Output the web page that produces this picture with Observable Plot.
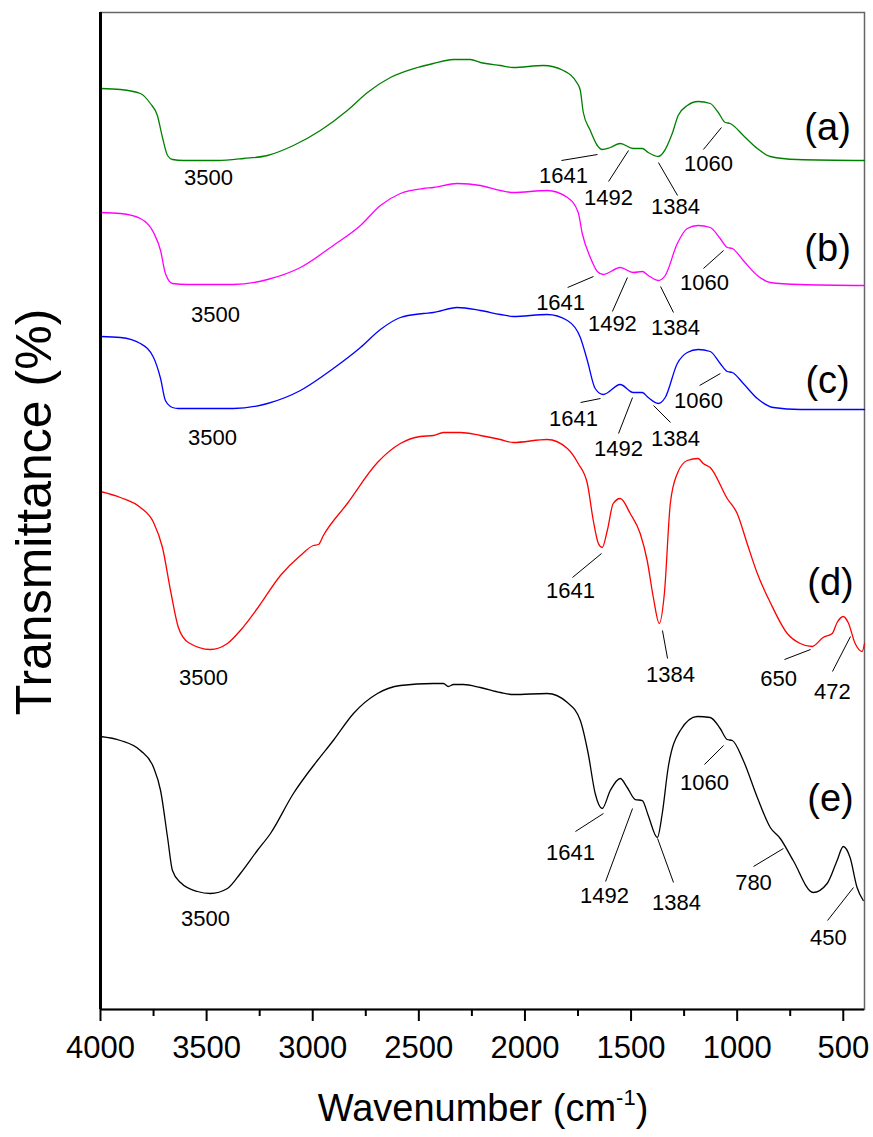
<!DOCTYPE html>
<html><head><meta charset="utf-8">
<script src="https://cdn.jsdelivr.net/npm/d3@7"></script>
<script src="https://cdn.jsdelivr.net/npm/@observablehq/plot@0.6"></script>
<style>body{margin:0;background:#fff} svg{display:block}</style>
</head><body><div id="chart"></div>
<script>
// Wavenumber (cm^-1), transmittance (arbitrary, offset) pairs
const curveA = [[4000,921],[3906,920],[3812,916],[3765,906],[3732,894],[3708,872],[3684,854],[3661,850],[3609,849],[3449,849],[3326,851],[3213,854],[3091,864],[2964,879],[2837,899],[2742,917],[2634,932],[2507,942],[2432,946],[2337,950],[2257,950],[2210,947],[2116,944],[2055,942],[1913,944],[1819,939],[1753,926],[1739,919],[1725,897],[1692,879],[1659,864],[1636,860],[1598,862],[1551,866],[1490,861],[1447,861],[1419,857],[1372,853],[1348,857],[1306,876],[1278,894],[1235,904],[1184,908],[1127,906],[1089,897],[1056,887],[1033,886],[971,874],[905,861],[844,853],[717,850],[400,849]];
const curveB = [[4000,797],[3906,796],[3812,791],[3750,777],[3717,759],[3694,736],[3661,726],[3590,725],[3374,725],[3213,730],[3058,742],[2903,764],[2775,784],[2681,804],[2587,816],[2479,821],[2432,822],[2319,826],[2210,824],[2116,819],[2055,817],[1895,819],[1800,812],[1749,797],[1730,776],[1692,752],[1659,738],[1631,735],[1551,742],[1490,737],[1447,738],[1419,734],[1372,729],[1339,734],[1282,766],[1235,781],[1184,784],[1127,782],[1080,771],[1047,762],[1023,761],[971,749],[905,734],[844,727],[703,725],[400,724]];
const curveC = [[4000,673],[3906,672],[3812,666],[3750,652],[3717,631],[3694,609],[3661,602],[3633,601],[3374,601],[3213,606],[3058,619],[2903,641],[2775,662],[2681,680],[2587,692],[2479,696],[2432,697],[2319,702],[2210,699],[2116,695],[2055,693],[1895,695],[1800,689],[1739,672],[1706,649],[1669,621],[1631,615],[1551,625],[1490,617],[1447,617],[1419,612],[1372,606],[1339,612],[1282,646],[1235,657],[1184,660],[1127,658],[1080,646],[1047,638],[1023,637],[971,626],[905,611],[830,602],[703,600],[400,600]];
const curveD = [[4000,518],[3906,512],[3812,502],[3750,487],[3708,462],[3670,419],[3633,382],[3586,367],[3482,360],[3402,366],[3341,379],[3261,401],[3152,434],[3058,454],[2997,464],[2973,465],[2950,474],[2837,506],[2695,547],[2587,566],[2493,573],[2432,574],[2384,577],[2304,577],[2210,574],[2116,570],[2055,567],[1895,570],[1800,561],[1749,546],[1706,526],[1678,489],[1654,466],[1636,462],[1612,479],[1584,506],[1551,511],[1504,496],[1457,476],[1424,449],[1395,412],[1367,386],[1343,416],[1315,506],[1282,536],[1235,549],[1184,551],[1160,546],[1127,542],[1047,511],[1000,496],[953,466],[905,436],[844,407],[764,376],[703,366],[647,363],[595,372],[552,376],[529,387],[500,393],[477,387],[444,366],[411,358],[400,366]];
const curveE = [[4000,273],[3906,269],[3812,259],[3750,242],[3717,219],[3684,172],[3661,139],[3623,127],[3543,118],[3482,116],[3402,121],[3341,136],[3261,159],[3199,176],[3091,216],[2978,249],[2903,269],[2808,296],[2695,316],[2587,324],[2432,326],[2384,326],[2361,323],[2337,325],[2290,325],[2210,322],[2116,317],[2055,315],[1895,316],[1800,307],[1739,289],[1702,256],[1669,216],[1636,201],[1598,219],[1551,231],[1518,222],[1480,210],[1447,209],[1419,194],[1376,172],[1353,196],[1325,242],[1268,279],[1188,293],[1127,292],[1080,281],[1047,270],[1023,269],[971,249],[905,212],[844,182],[797,171],[736,149],[642,117],[576,126],[529,149],[500,163],[468,152],[435,122],[406,109]];

const seriesNames = ["(a)", "(b)", "(c)", "(d)", "(e)"];
const seriesColors = ["#008000", "#ff00ff", "#0000ff", "#ff0000", "#000000"];
const seriesLabelX = [574, 574, 574, 560, 560];
const seriesLabelY = [882, 761, 629, 427, 211];

const xTicks = [4000, 3500, 3000, 2500, 2000, 1500, 1000, 500];
const xMinorTicks = [3750, 3250, 2750, 2250, 1750, 1250, 750];

// Peak annotations: label, text anchor (wavenumber, value), leader line ends
const peakText = ["3500","1641","1492","1384","1060", "3500","1641","1492","1384","1060", "3500","1641","1492","1384","1060", "3500","1641","1384","650","472", "3500","1641","1492","1384","1060","780","450"];
const peakTextX = [3491,1818,1606,1291,1135, 3458,1832,1588,1291,1154, 3472,1771,1559,1291,1182, 3515,1785,1314,805,551, 3505,1785,1625,1286,1154,923,570];
const peakTextY = [832,834,812,803,846, 695,707,686,682,727, 572,591,561,571,609, 332,419,335,331,318, 91,157,114,107,227,127,72];
const leaderX1 = [1828,1606,1371,1159, 1799,1588,1361,1159, 1738,1559,1394,1177, 1776,1352,777,551, 1762,1620,1375,1154,923,574];
const leaderY1 = [849,828,847,860, 722,698,723,741, 607,576,604,624, 432,379,350,338, 178,128,171,245,143,89];
const leaderX2 = [1658,1512,1281,1074, 1677,1517,1300,1064, 1644,1493,1314,1079, 1639,1328,654,466, 1630,1493,1300,1064,782,452];
const leaderY2 = [855,859,814,882, 733,732,697,759, 611,612,587,636, 456,351,360,373, 196,201,127,264,161,122];

const curves = [curveA, curveB, curveC, curveD, curveE];
const rows = curves.flatMap((c, i) => c.map(([x, y]) => ({series: seriesNames[i], x, y})));
const peaks = peakText.map((t, i) => ({t, x: peakTextX[i], y: peakTextY[i]}));
const leaders = leaderX1.map((x1, i) => ({x1, y1: leaderY1[i], x2: leaderX2[i], y2: leaderY2[i]}));
const tags = seriesNames.map((t, i) => ({t, x: seriesLabelX[i], y: seriesLabelY[i]}));

const font = "'Liberation Sans', Arial, Helvetica, sans-serif";
const chart = Plot.plot({
  width: 873, height: 1137,
  marginLeft: 100, marginRight: 9, marginTop: 12, marginBottom: 128,
  style: {fontFamily: font, background: "#fff", color: "#000"},
  x: {domain: [4000, 400]},
  y: {domain: [0, 997], axis: null},
  color: {domain: seriesNames, range: seriesColors},
  marks: [
    Plot.frame({stroke: "#666", strokeWidth: 1.5}),
    Plot.line(rows, {x: "x", y: "y", z: "series", stroke: "series", strokeWidth: 1.3, curve: "monotone-x"}),
    Plot.link(leaders, {x1: "x1", y1: "y1", x2: "x2", y2: "y2", stroke: "#000", strokeWidth: 1}),
    Plot.text(peaks, {x: "x", y: "y", text: "t", fontSize: 22, lineAnchor: "middle", fill: "#000"}),
    Plot.text(tags, {x: "x", y: "y", text: "t", fontSize: 38, lineAnchor: "middle", fill: "#000"}),
    Plot.ruleX([4000], {stroke: "#000", strokeWidth: 3}),
    Plot.ruleY([0], {stroke: "#000", strokeWidth: 2}),
    Plot.axisX({ticks: xTicks, tickSize: 12, tickPadding: 14, fontSize: 31, strokeWidth: 2, label: null, tickFormat: d => String(d)}),
    Plot.axisX({ticks: xMinorTicks, tickSize: 7, strokeWidth: 2, label: null, tickFormat: () => ""})
  ]
});
document.getElementById("chart").appendChild(chart);

const svg = d3.select(chart);
const xt = svg.append("text").attr("x", 483).attr("y", 1121).attr("text-anchor", "middle")
  .attr("font-size", 38).attr("font-family", font).attr("fill", "#000");
xt.append("tspan").text("Wavenumber (cm");
xt.append("tspan").attr("font-size", 22).attr("dy", -16).text("-1");
xt.append("tspan").attr("font-size", 38).attr("dy", 16).text(")");
svg.append("text").attr("transform", "translate(51,512) rotate(-90)").attr("text-anchor", "middle")
  .attr("font-size", 50).attr("font-family", font).attr("fill", "#000").text("Transmittance (%)");
</script>
</body></html>
